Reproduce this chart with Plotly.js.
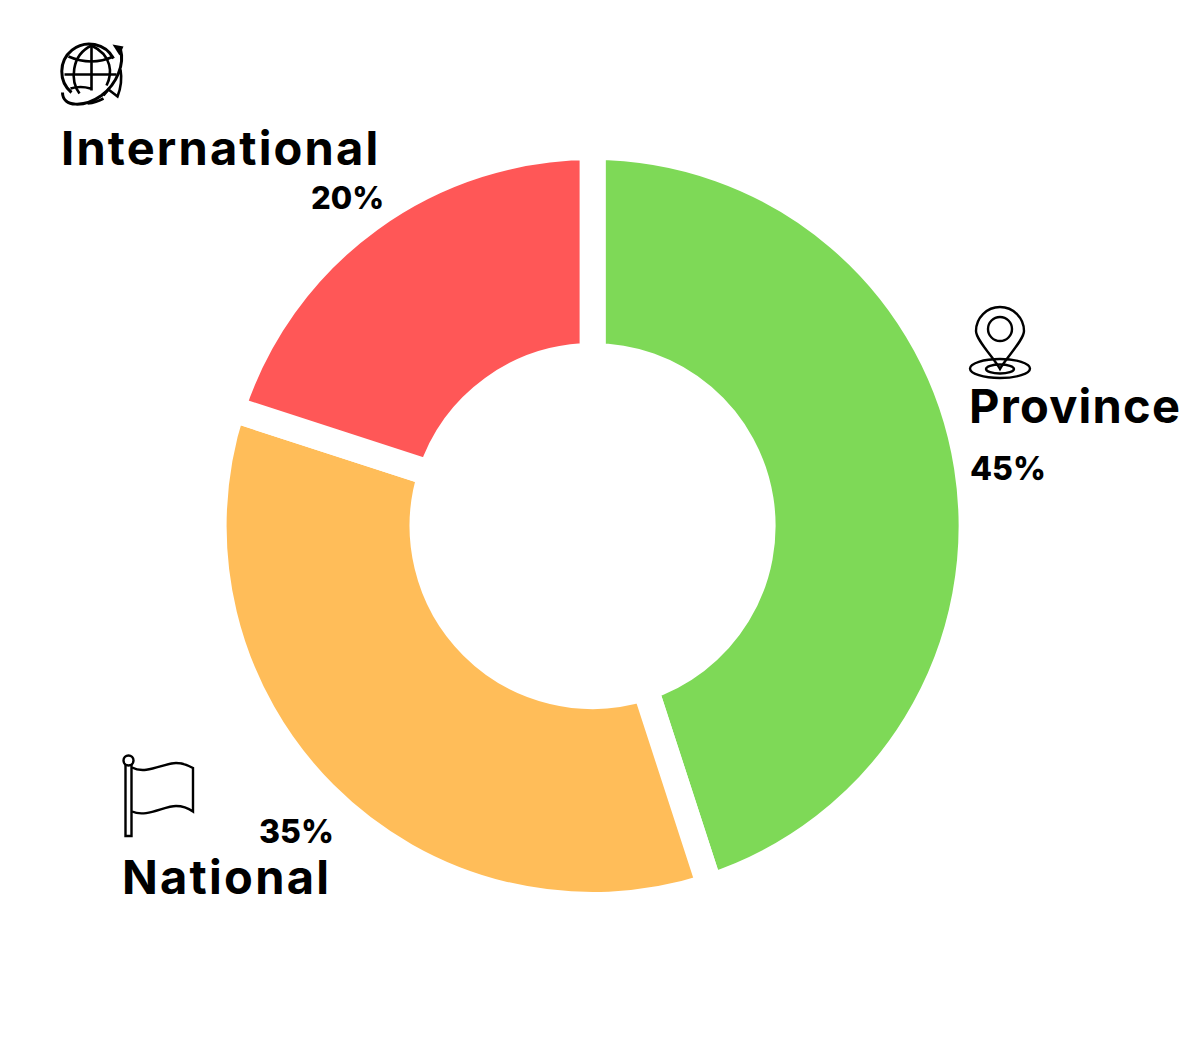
<!DOCTYPE html>
<html>
<head>
<meta charset="utf-8">
<script src="https://cdn.plot.ly/plotly-3.0.1.min.js"></script>
<style>
html,body{margin:0;padding:0;background:#fff;overflow:hidden}
.annotation[data-index="0"] text{letter-spacing:2.15px}
.annotation[data-index="2"] text{letter-spacing:1.25px}
.annotation[data-index="4"] text{letter-spacing:2.25px}
</style>
</head>
<body>
<div id="chart" style="width:1204px;height:1042px"></div>
<script>
var categories = ["Province", "National", "International"];
var values = [45, 35, 20];
var percentLabels = ["45%", "35%", "20%"];
var colors = ["#7ED957", "#FFBD59", "#FF5757"];

var W = 1204, H = 1042;
function px(x){ return x / W; }
function py(y){ return 1 - y / H; }

var globe = '<g transform="translate(0.5,1.5)"><g fill="none" stroke="#000" stroke-width="3">' +
  '<path d="M71 91 A27.5 27.5 0 1 1 113 57"/>' +
  '<path d="M91 44 V89 M64 73 H116 M68 55 Q91 65 113 55 M70 87 Q80 84 90 87" stroke-width="2.6"/>' +
  '<path d="M91 44 C70 54 70 80 79 92 M91 44 C112 54 112 72 106 84" stroke-width="2.6"/>' +
  '<path d="M62 91 C62 106 84 106 101 94 C117 82 124 62 120 48"/>' +
  '<path d="M120 68 C122 80 119 90 117 95 L108 88 L103 94 M103 97 Q96 101 87 102" stroke-width="2.6"/></g>' +
  '<path d="M112 43 L123 45 L119 54 Z" fill="#000"/></g>';
var pin = '<g fill="none" stroke="#000" stroke-width="2.4">' +
  '<path d="M1000 369 C994 358 976 340 976 331 A24 24 0 0 1 1024 331 C1024 340 1006 358 1000 369 Z"/>' +
  '<circle cx="1000" cy="329" r="12"/>' +
  '<ellipse cx="1000" cy="368.5" rx="30" ry="9.5"/>' +
  '<ellipse cx="1000" cy="369" rx="14" ry="4.5"/></g>';
var flag = '<g fill="none" stroke="#000" stroke-width="2.4">' +
  '<path d="M125.5 765 V836 H131.5 V765"/>' +
  '<circle cx="128.5" cy="760.5" r="5"/>' +
  '<path d="M132 767.5 C146 775 164 763 176 763 C183 763 188 765 193 768 V811.5 C188 808 183 806 176 806 C164 806 146 818 132 811.5"/></g>';

function icon(x, y, w, h, inner){
  var svg = '<svg xmlns="http://www.w3.org/2000/svg" width="' + w + '" height="' + h +
    '" viewBox="' + x + ' ' + y + ' ' + w + ' ' + h + '">' + inner + '</svg>';
  return {
    source: 'data:image/svg+xml;charset=utf-8,' + encodeURIComponent(svg),
    xref: 'paper', yref: 'paper', x: px(x), y: py(y),
    sizex: w / W, sizey: h / H, sizing: 'stretch',
    xanchor: 'left', yanchor: 'top', layer: 'above'
  };
}
function label(text, x, y, size, weight){
  return {
    text: text, xref: 'paper', yref: 'paper', x: px(x), y: py(y),
    xanchor: 'left', yanchor: 'middle', showarrow: false,
    borderpad: 0, borderwidth: 0,
    font: {family: 'Inter, "Noto Sans", sans-serif', size: size, weight: weight, color: '#000'}
  };
}

var trace = {
  type: 'pie',
  labels: categories,
  values: values,
  sort: false,
  direction: 'clockwise',
  rotation: 0,
  hole: 170 / 379,
  textinfo: 'none',
  hoverinfo: 'label+percent',
  showlegend: false,
  marker: {colors: colors, line: {color: '#ffffff', width: 26}},
  domain: {x: [px(213.6), px(971.6)], y: [py(905), py(147)]}
};

var layout = {
  width: W, height: H,
  margin: {l: 0, r: 0, t: 0, b: 0},
  paper_bgcolor: '#fff',
  showlegend: false,
  annotations: [
    label(categories[2], 75, 148, 47, 700),
    label(percentLabels[2], 311, 197, 31, 800),
    label(categories[0], 974, 406, 47, 700),
    label(percentLabels[0], 970, 468, 32, 800),
    label(categories[1], 131, 876, 47, 700),
    label(percentLabels[1], 259, 831, 32, 800)
  ],
  images: [
    icon(50, 35, 80, 75, globe),
    icon(960, 300, 80, 85, pin),
    icon(115, 750, 85, 92, flag)
  ]
};

Plotly.newPlot('chart', [trace], layout, {displayModeBar: false, responsive: false});
</script>
</body>
</html>
